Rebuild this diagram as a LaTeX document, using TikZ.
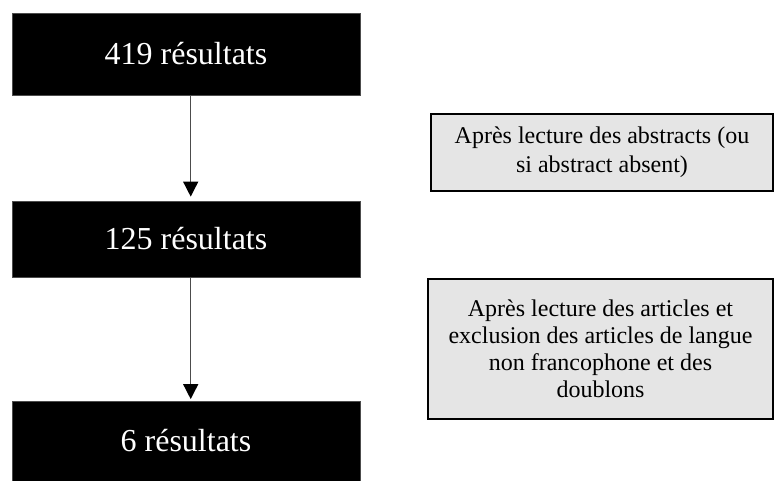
\documentclass[tikz,border=0pt]{standalone}
\usepackage{fontspec}
\setmainfont{Liberation Serif}
\usetikzlibrary{arrows.meta}
\begin{document}
\begin{tikzpicture}[x=1pt,y=-1pt,
  blackbox/.style={fill=black,draw=black!70,line width=0.8pt,text=white,inner sep=0pt,
    font=\fontsize{32}{36}\selectfont},
  graybox/.style={fill=black!10,draw=black,line width=1.3pt,inner sep=0pt,align=center,
    font=\fontsize{24}{27}\selectfont},
  flow/.style={draw=black!70,line width=1.4pt,
    -{Triangle[width=15pt,length=15pt,color=black,fill=black]}}]
\useasboundingbox (0,0) rectangle (774,480);
\clip (0,0) rectangle (774,480);
\node[blackbox,minimum width=348pt,minimum height=82pt] (b1) at (186,54) {419 résultats};
\node[blackbox,minimum width=348pt,minimum height=76pt] (b2) at (186,239) {125 résultats};
\node[blackbox,minimum width=348pt,minimum height=80pt] (b3) at (186,441) {6 résultats};
\node[graybox,minimum width=342pt,minimum height=77pt,font=\fontsize{24}{29}\selectfont] (g1) at (602,152.5)
  {Après lecture des abstracts (ou\\si abstract absent)};
\node[graybox,minimum width=345pt,minimum height=140pt] (g2) at (600.5,349)
  {Après lecture des articles et\\exclusion des articles de langue\\non francophone et des\\doublons};
\coordinate (ax) at (190.7,0);
\draw[flow,shorten >=4pt] (b1.south -| ax) -- (b2.north -| ax);
\draw[flow,shorten >=1.5pt] (b2.south -| ax) -- (b3.north -| ax);
\end{tikzpicture}
\end{document}
